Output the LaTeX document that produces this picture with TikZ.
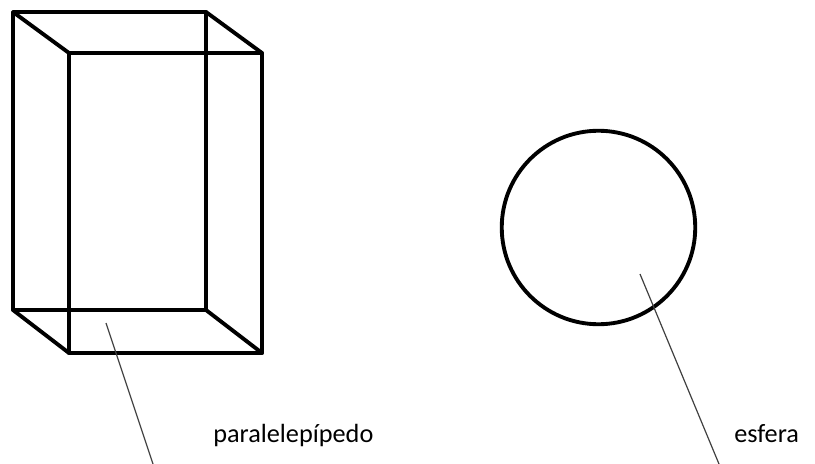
\documentclass[tikz,border=0pt]{standalone}
\usepackage{fontspec}
\setmainfont{Carlito}
\usetikzlibrary{positioning}

\begin{document}
\begin{tikzpicture}[
    x=0.75pt, y=-0.75pt,
    edge/.style={draw=black, line width=2.9pt, line cap=round, line join=round},
    leader/.style={draw=black!75, line width=0.9pt},
    label/.style={inner sep=0pt, anchor=base west, font=\fontsize{19.7}{23}\selectfont}
]
    \useasboundingbox (0,0) rectangle (815,464);

    \coordinate (backA) at (13,12);
    \coordinate (backB) at (206,12);
    \coordinate (backC) at (206,310);
    \coordinate (backD) at (13,310);
    \coordinate (frontA) at (69,53);
    \coordinate (frontB) at (262,53);
    \coordinate (frontC) at (262,353);
    \coordinate (frontD) at (69,353);

    \draw[edge] (backA) -- (backB) -- (backC) -- (backD) -- cycle;
    \draw[edge] (frontA) -- (frontB) -- (frontC) -- (frontD) -- cycle;
    \draw[edge] (backA) -- (frontA);
    \draw[edge] (backB) -- (frontB);
    \draw[edge] (backC) -- (frontC);
    \draw[edge] (backD) -- (frontD);

    \node[circle, draw=black, line width=2.9pt, minimum size=193.5*0.75pt, inner sep=0pt] (sphere) at (598.5,227.5) {};

    \node[label] (prismlabel) at (213,442) {paralelepípedo};
    \node[label] (spherelabel) at (734,442) {esfera};

    \coordinate (prismtip) at (106,323);
    \coordinate (prismend) at (153,464);
    \coordinate (spheretip) at (640,274);
    \coordinate (sphereend) at (719,464);
    \draw[leader] (prismtip) -- (prismend);
    \draw[leader] (spheretip) -- (sphereend);
\end{tikzpicture}
\end{document}
